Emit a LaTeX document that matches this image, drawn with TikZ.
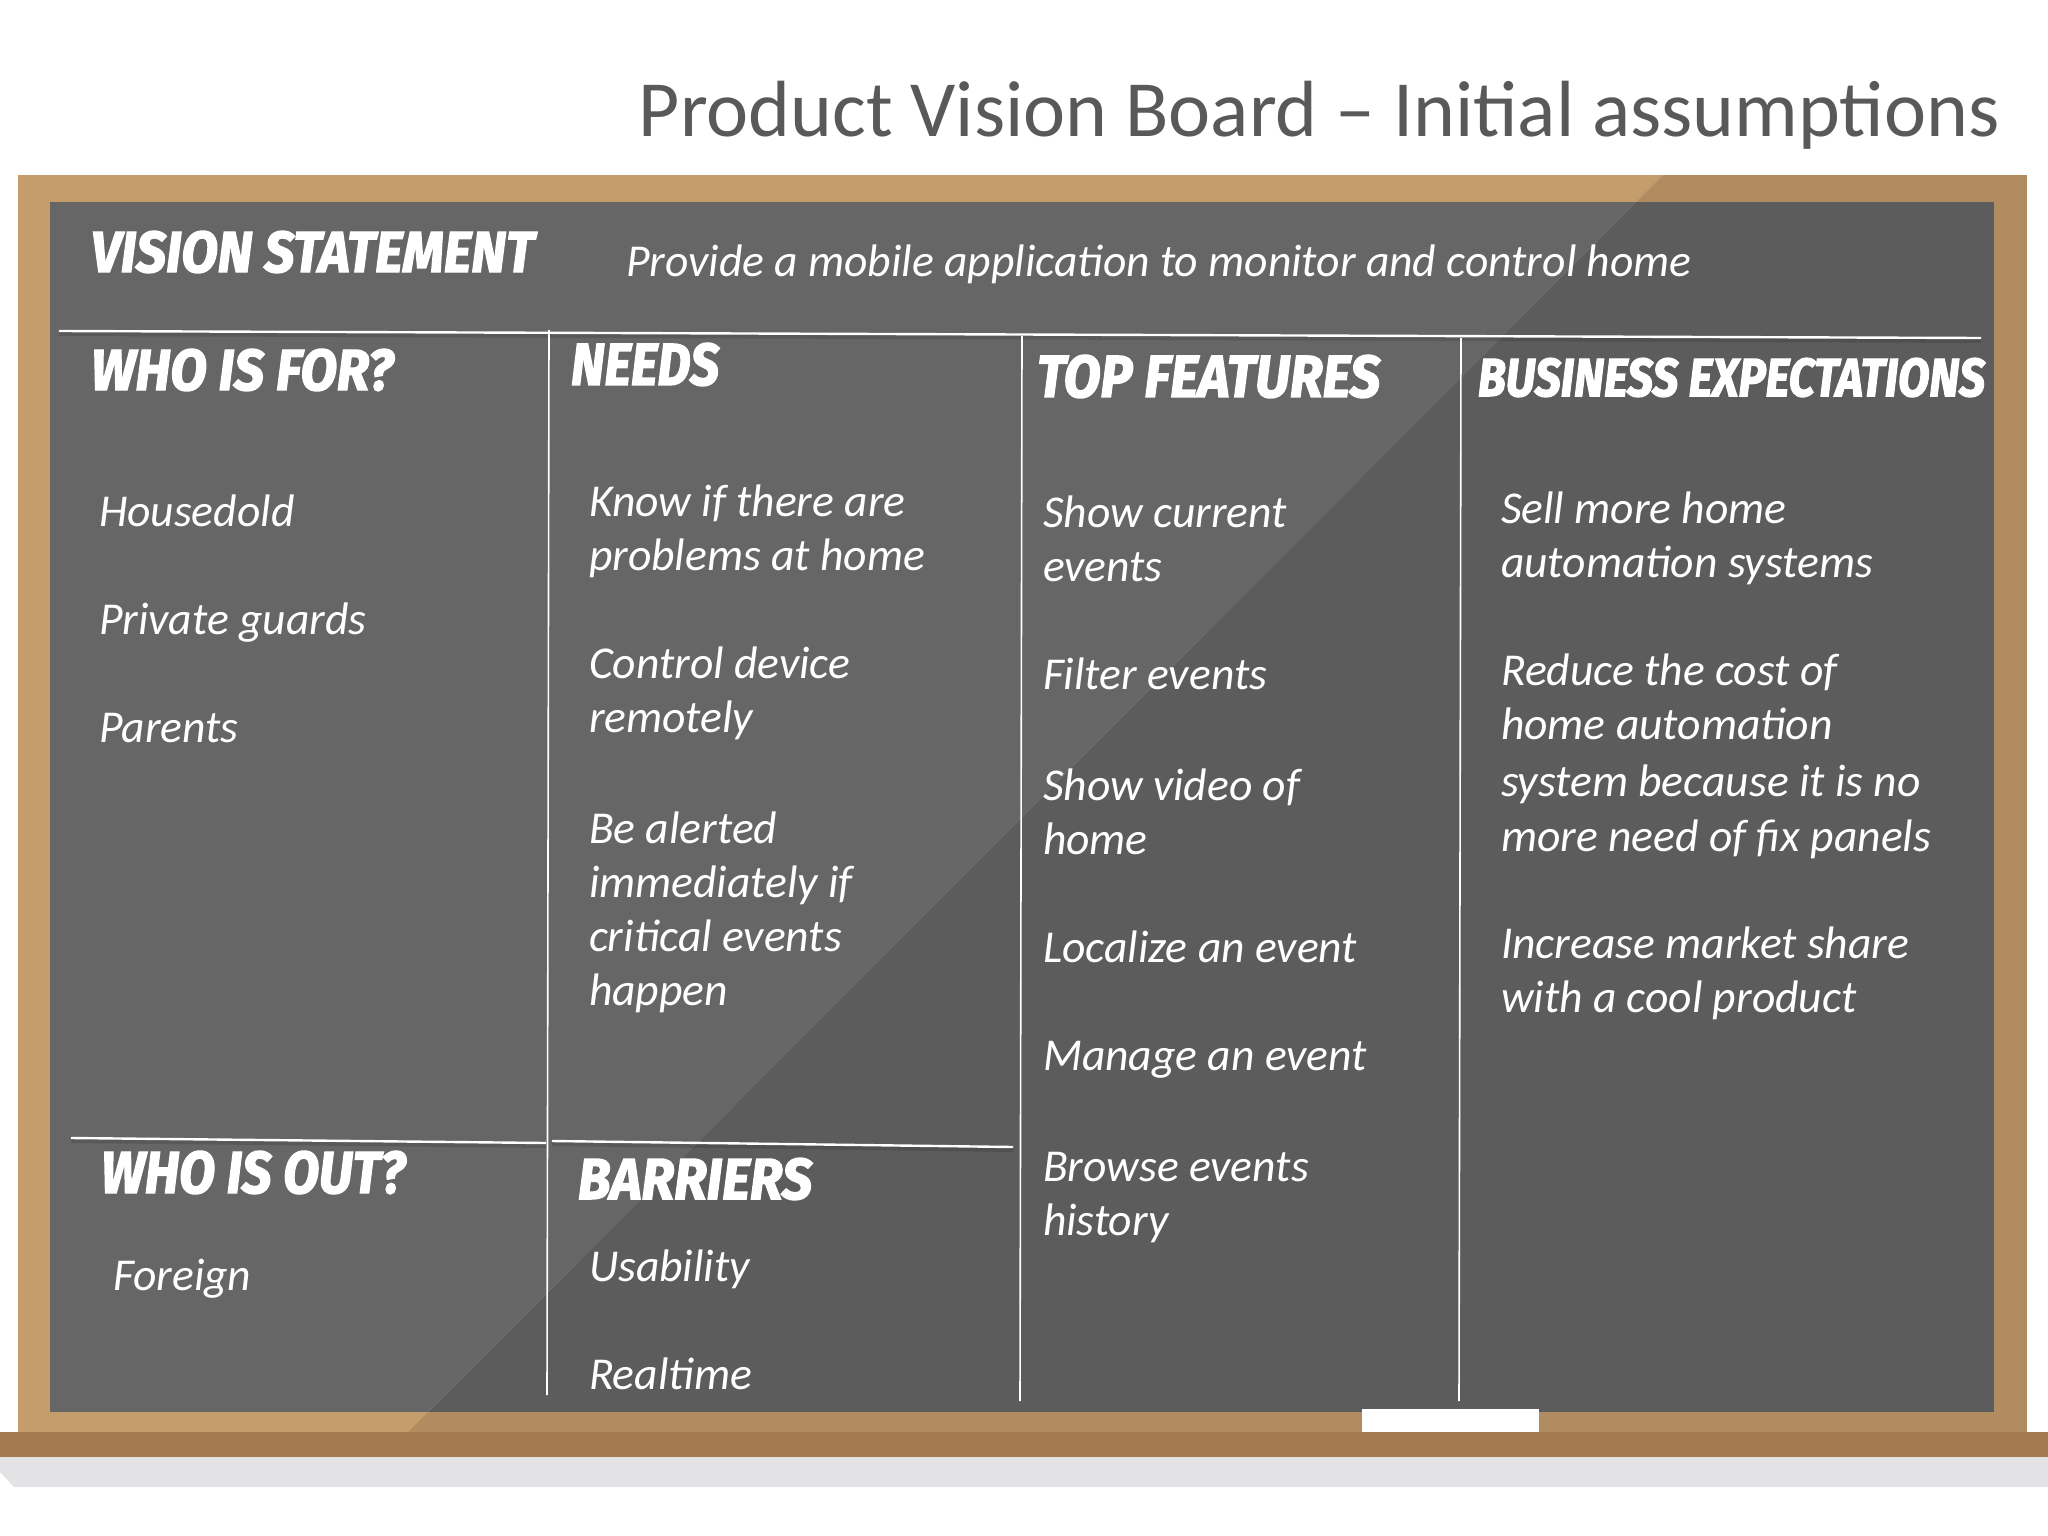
\documentclass[tikz,border=0pt]{standalone}
\usepackage{fontspec}
\usepackage{graphicx}
\setmainfont{Carlito}
\newfontfamily\hdfont[FakeBold=2.5]{Fira Sans}
\definecolor{frameL}{HTML}{C59C6C}
\definecolor{frameD}{HTML}{B08C60}
\definecolor{boardL}{HTML}{666666}
\definecolor{boardD}{HTML}{5C5C5C}
\definecolor{trayC}{HTML}{A57A53}
\definecolor{shadowC}{HTML}{E3E3E5}
\definecolor{titleC}{HTML}{595959}
\newcommand{\hdtxt}[3]{\resizebox{#1pt}{#2pt}{\hdfont\bfseries\itshape #3}}
\newcommand{\bodylines}[1]{\begin{tabular}[t]{@{}l@{}}#1\end{tabular}}
\tikzset{
  bodytext/.style={anchor=base west,inner sep=0pt,outer sep=0pt,text=white,font=\fontsize{45.6}{54.3}\selectfont\itshape},
  headtext/.style={anchor=south west,inner sep=0pt,outer sep=0pt,text=white},
  chalkline/.style={draw=white,line width=#1,line cap=butt},
  chalkline/.default=2pt,
  lineshadow/.style={draw=black,opacity=.12,line width=4pt}
}
\begin{document}
\begin{tikzpicture}[x=1pt,y=-1pt]
\useasboundingbox (0,0) rectangle (2048,1536);
\fill[white] (0,0) rectangle (2048,1536);
% floor shadow
\fill[shadowC] (0,1457) -- (2048,1457) -- (2048,1487) -- (14,1487) -- (0,1472) -- cycle;
% frame and board, shaded part
\fill[frameD] (18,175) rectangle (2027,1432);
\fill[boardD] (50,202) rectangle (1994,1412);
% lit part
\begin{scope}
  \clip (18,175) -- (1663,175) -- (408,1432) -- (18,1432) -- cycle;
  \fill[frameL] (18,175) rectangle (2027,1432);
  \fill[boardL] (50,202) rectangle (1994,1412);
\end{scope}
% tray and chalk
\fill[trayC] (0,1432) rectangle (2048,1457);
\fill[white] (1362,1409) rectangle (1539,1432);
% title
\node[anchor=base east,inner sep=0pt,text=titleC,font=\fontsize{79.7}{88}\selectfont] (title) at (2000,137) {Product Vision Board -- Initial assumptions};
% rule end points
\coordinate (topL) at (59,331);
\coordinate (topR) at (1981,338);
\coordinate (v1T) at (549,330);
\coordinate (v1B) at (547,1395);
\coordinate (v2T) at (1022,336);
\coordinate (v2B) at (1020,1401);
\coordinate (v3T) at (1461,338);
\coordinate (v3B) at (1459,1401);
\coordinate (outL) at (71,1138);
\coordinate (outR) at (546,1143);
\coordinate (barL) at (552,1141);
\coordinate (barR) at (1013,1147);
\foreach \a/\b in {topL/topR,outL/outR,barL/barR}{
  \draw[lineshadow] ([yshift=-3pt]\a) -- ([yshift=-3pt]\b);
}
\draw[chalkline=2.4pt] (topL) -- (topR);
\draw[chalkline=1.6pt] (v1T) -- (v1B);
\draw[chalkline=1.6pt] (v2T) -- (v2B);
\draw[chalkline=1.6pt] (v3T) -- (v3B);
\draw[chalkline=2.4pt] (outL) -- (outR);
\draw[chalkline=2.4pt] (barL) -- (barR);
% headings
\node[headtext] (hVision) at (91,273) {\hdtxt{443}{41}{VISION STATEMENT}};
\node[headtext] (hWhoFor) at (91,391) {\hdtxt{302}{41}{WHO IS FOR?}};
\node[headtext] (hNeeds) at (571,386) {\hdtxt{148}{42}{NEEDS}};
\node[headtext] (hTop) at (1037,398) {\hdtxt{343}{42}{TOP FEATURES}};
\node[headtext] (hBiz) at (1478,397) {\hdtxt{507}{38}{BUSINESS EXPECTATIONS}};
\node[headtext] (hWhoOut) at (101,1194) {\hdtxt{304}{42}{WHO IS OUT?}};
\node[headtext] (hBarriers) at (578,1200) {\hdtxt{234}{41}{BARRIERS}};
% body
\node[bodytext] (vision) at (626,276) {Provide a mobile application to monitor and control home};
\node[bodytext] (w1) at (99,526) {Housedold};
\node[bodytext] (w2) at (99,634) {Private guards};
\node[bodytext] (w3) at (99,742) {Parents};
\node[bodytext] (n1) at (589,516) {\bodylines{Know if there are\\problems at home}};
\node[bodytext] (n2) at (589,678) {\bodylines{Control device\\remotely}};
\node[bodytext] (n3) at (589,843) {\bodylines{Be alerted\\immediately if\\critical events\\happen}};
\node[bodytext] (f1) at (1043,527) {\bodylines{Show current\\events}};
\node[bodytext] (f2) at (1043,689) {Filter events};
\node[bodytext] (f3) at (1043,800) {\bodylines{Show video of\\home}};
\node[bodytext] (f4) at (1043,962) {Localize an event};
\node[bodytext] (f5) at (1043,1070) {Manage an event};
\node[bodytext] (f6) at (1043,1181) {\bodylines{Browse events\\history}};
\node[bodytext] (b1) at (1501,523) {\bodylines{Sell more home\\automation systems}};
\node[bodytext] (b2) at (1501,685) {\bodylines{Reduce the cost of\\home automation\\[2.5pt]system because it is no\\[1.5pt]more need of fix panels}};
\node[bodytext] (b3) at (1501,958) {\bodylines{Increase market share\\with a cool product}};
\node[bodytext] (o1) at (113,1290) {Foreign};
\node[bodytext] (r1) at (589,1281) {Usability};
\node[bodytext] (r2) at (589,1389) {Realtime};
\end{tikzpicture}
\end{document}
